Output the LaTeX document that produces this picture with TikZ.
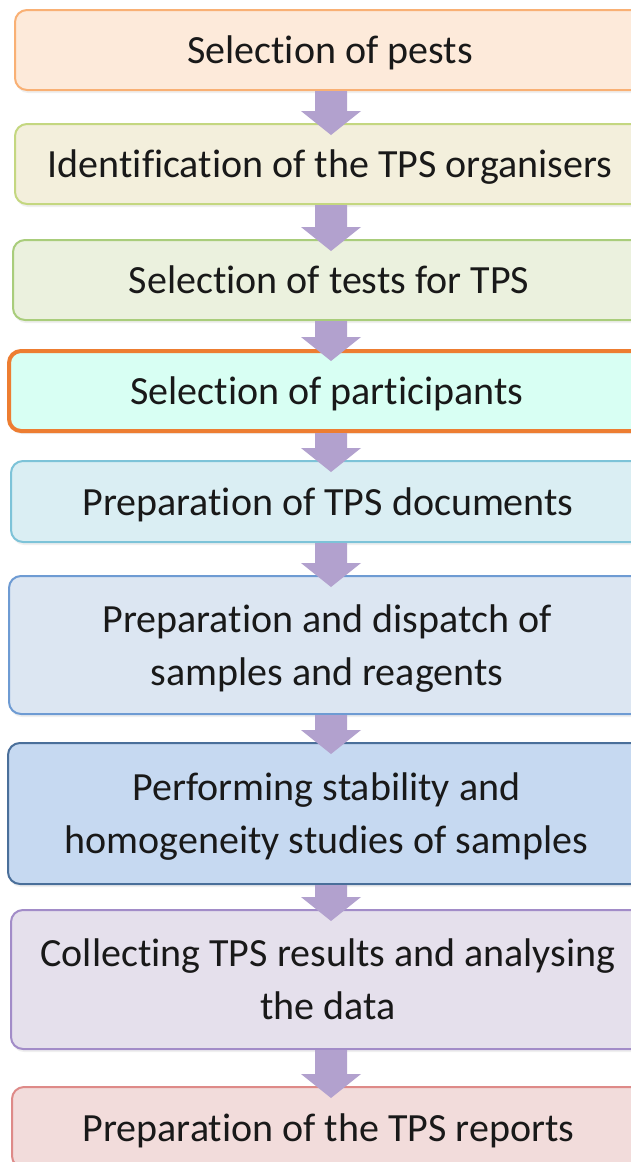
\documentclass[tikz,border=0pt]{standalone}
\usepackage{fontspec}
\setmainfont[Ligatures = NoCommon]{Carlito}
\usetikzlibrary{calc,shadows}
\definecolor{arrowColor}{RGB}{178,161,206}
\definecolor{pestsFill}{RGB}{253,234,218}
\definecolor{pestsLine}{RGB}{249,176,116}
\definecolor{organisersFill}{RGB}{243,239,220}
\definecolor{organisersLine}{RGB}{196,215,128}
\definecolor{testsFill}{RGB}{235,241,222}
\definecolor{testsLine}{RGB}{169,205,123}
\definecolor{participantsFill}{RGB}{216,255,243}
\definecolor{participantsLine}{RGB}{237,125,49}
\definecolor{documentsFill}{RGB}{218,238,243}
\definecolor{documentsLine}{RGB}{125,195,216}
\definecolor{dispatchFill}{RGB}{220,230,242}
\definecolor{dispatchLine}{RGB}{110,155,211}
\definecolor{stabilityFill}{RGB}{198,217,241}
\definecolor{stabilityLine}{RGB}{74,111,154}
\definecolor{resultsFill}{RGB}{229,224,236}
\definecolor{resultsLine}{RGB}{162,140,200}
\definecolor{reportsFill}{RGB}{242,220,219}
\definecolor{reportsLine}{RGB}{222,138,136}
\tikzstyle{chart} = [x = 0.5pt, y = -0.5pt]
\tikzstyle{stepStyle} = [draw, rounded corners = 6pt, line width = 1pt, align = center, inner sep = 0pt,
  font = \fontsize{20}{26.5}\selectfont, text = black!90, text depth = 0pt,
  drop shadow = {opacity = 0.12, shadow xshift = 0.5pt, shadow yshift = -1.5pt}]
\tikzstyle{arrowStyle} = [fill = arrowColor]
\newcommand{\rightEdge}{645}
\newcommand{\flowStep}[6]{\node [stepStyle, #5, minimum width = {(\rightEdge - #2) * 0.5pt}, minimum height = {(#4 - #3) * 0.5pt}] (#1) at ({(#2 + \rightEdge) / 2}, {(#3 + #4) / 2}) {#6};}
\newcommand{\flowArrow}[2]{\fill [arrowStyle] ($(#1.south -| spine) + (-16,0)$) -- ($(#1.south -| spine) + (16,0)$) -- ($(#2.north -| spine) + (16,-12)$) -- ($(#2.north -| spine) + (30,-12)$) -- ($(#2.north -| spine) + (0,12)$) -- ($(#2.north -| spine) + (-30,-12)$) -- ($(#2.north -| spine) + (-16,-12)$) -- cycle;}

\begin{document}
\begin{tikzpicture}[chart]
  \useasboundingbox [fill = white] (0,0) rectangle (631,1162);
  \coordinate (spine) at (331,0);

  \flowStep{pests}{15}{10}{90}{fill = pestsFill, draw = pestsLine}{Selection of pests}
  \flowStep{organisers}{15}{124}{204}{fill = organisersFill, draw = organisersLine}{Identification of the TPS organisers}
  \flowStep{tests}{13}{240}{320}{fill = testsFill, draw = testsLine}{Selection of tests for TPS}
  \flowStep{participants}{9}{351}{431}{fill = participantsFill, draw = participantsLine, line width = 2pt}{Selection of participants}
  \flowStep{documents}{11}{461}{542}{fill = documentsFill, draw = documentsLine}{Preparation of TPS documents}
  \flowStep{dispatch}{9}{576}{714}{fill = dispatchFill, draw = dispatchLine}{Preparation and dispatch of\\samples and reagents}
  \flowStep{stability}{8}{743}{884}{fill = stabilityFill, draw = stabilityLine}{Performing stability and\\homogeneity studies of samples}
  \flowStep{results}{11}{910}{1049}{fill = resultsFill, draw = resultsLine}{Collecting TPS results and analysing\\the data}
  \flowStep{reports}{12}{1087}{1168}{fill = reportsFill, draw = reportsLine}{Preparation of the TPS reports}

  \flowArrow{pests}{organisers}
  \flowArrow{organisers}{tests}
  \flowArrow{tests}{participants}
  \flowArrow{participants}{documents}
  \flowArrow{documents}{dispatch}
  \flowArrow{dispatch}{stability}
  \flowArrow{stability}{results}
  \flowArrow{results}{reports}
\end{tikzpicture}
\end{document}
